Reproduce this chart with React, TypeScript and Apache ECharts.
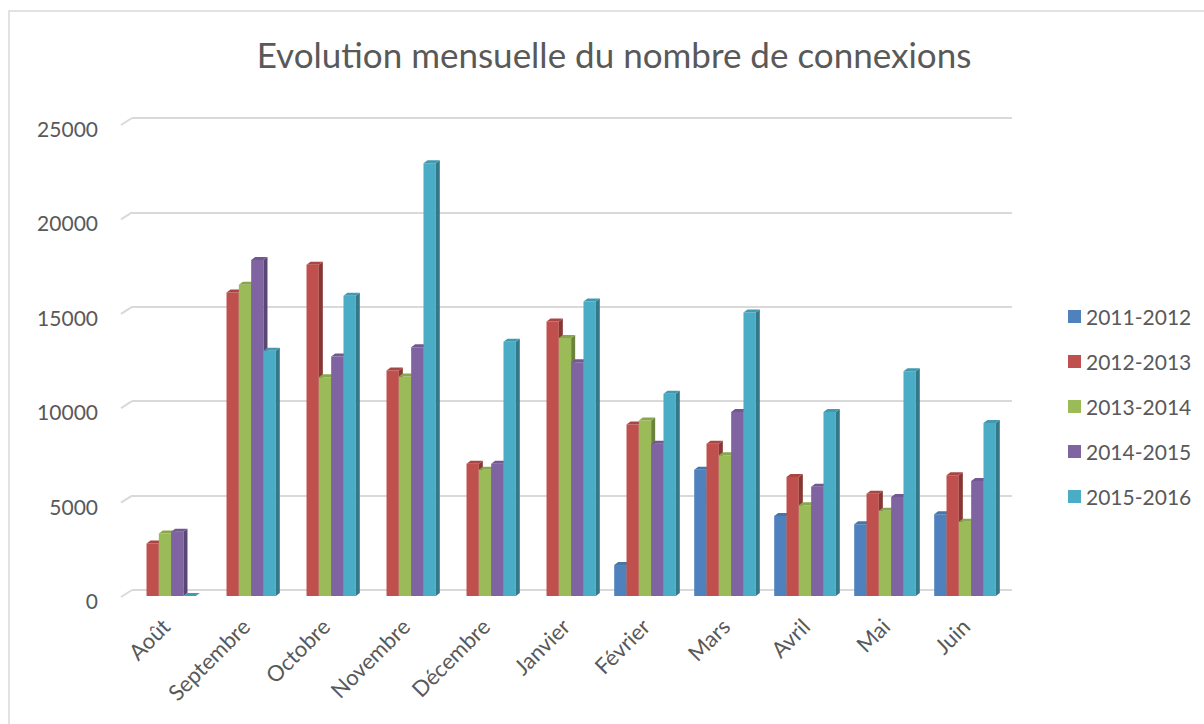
import React, { useEffect, useRef } from "react";
import * as echarts from "echarts";

const months = ["Août", "Septembre", "Octobre", "Novembre", "Décembre", "Janvier", "Février", "Mars", "Avril", "Mai", "Juin"];
const seasons = ["2011-2012", "2012-2013", "2013-2014", "2014-2015", "2015-2016"];
const s2011 = [null, null, null, null, null, null, 1640, 6690, 4240, 3800, 4330];
const s2012 = [2780, 16070, 17540, 11940, 7010, 14540, 9090, 8060, 6300, 5420, 6390];
const s2013 = [3310, 16480, 11590, 11620, 6690, 13660, 9300, 7450, 4810, 4510, 3930];
const s2014 = [3400, 17800, 12680, 13170, 7010, 12380, 8060, 9740, 5780, 5250, 6090];
const s2015 = [0, 12990, 15900, 22920, 13470, 15600, 10710, 15020, 9740, 11900, 9160];
const yTicks = [0, 5000, 10000, 15000, 20000, 25000];

const seriesValues = [s2011, s2012, s2013, s2014, s2015];
const frontColors = ["#4F81BD", "#C0504D", "#9BBB59", "#8064A2", "#4BACC6"];
const sideColors = ["#375A85", "#873836", "#6C833E", "#5A4672", "#347889"];
const topColors = ["#4675AB", "#A94643", "#89A64E", "#715891", "#429AB1"];

const FONT = "Lato, 'Open Sans', sans-serif";
const TXT = "#595959";
const GRID = "#d9d9d9";

export default function App() {
  const ref = useRef<HTMLDivElement>(null);

  useEffect(() => {
    document.body.style.margin = "0";
    const chart = echarts.init(ref.current!, null, { renderer: "svg" });

    const FX = -7;
    const FY = 6;
    const DX = 4;
    const DY = 3;

    const barSeries = seriesValues.map((vals, s) => ({
      name: seasons[s],
      type: "custom",
      itemStyle: { color: frontColors[s] },
      data: months.map((_, i) => [i, vals[i] === null ? "-" : vals[i]]),
      renderItem: (params: any, api: any) => {
        const cat = api.value(0);
        const v = api.value(1);
        if (v === null || v === undefined || isNaN(v)) return null;
        const base = api.coord([cat, 0]);
        const top = api.coord([cat, v]);
        const band = api.size([1, 0])[0];
        const bw = band * 0.154;
        const groupW = bw * 5;
        const x0 = base[0] - groupW / 2 + s * bw + FX;
        const yb = base[1] + FY;
        const yt = top[1] + FY;
        return {
          type: "group",
          children: [
            {
              type: "rect",
              shape: { x: x0, y: yt, width: bw, height: yb - yt },
              style: { fill: frontColors[s] },
            },
            {
              type: "polygon",
              shape: {
                points: [
                  [x0 + bw, yt],
                  [x0 + bw + DX, yt - DY],
                  [x0 + bw + DX, yb - DY],
                  [x0 + bw, yb],
                ],
              },
              style: { fill: sideColors[s] },
            },
            {
              type: "polygon",
              shape: {
                points: [
                  [x0, yt],
                  [x0 + DX, yt - DY],
                  [x0 + bw + DX, yt - DY],
                  [x0 + bw, yt],
                ],
              },
              style: { fill: topColors[s] },
            },
          ],
        };
      },
    }));

    const slantSeries = {
      name: "grid-slant",
      type: "custom",
      silent: true,
      data: yTicks.map((v) => [0, v]),
      renderItem: (params: any, api: any) => {
        const p = api.coord([0, api.value(1)]);
        const left = p[0] - api.size([1, 0])[0] / 2;
        return {
          type: "line",
          shape: { x1: left - 11, y1: p[1] + 7, x2: left, y2: p[1] },
          style: { stroke: GRID, lineWidth: 2 },
        };
      },
    };

    chart.setOption({
      animation: false,
      backgroundColor: "#ffffff",
      color: frontColors,
      textStyle: { fontFamily: FONT },
      graphic: [
        {
          type: "rect",
          shape: { x: 9, y: 11, width: 1400, height: 900 },
          style: { fill: "none", stroke: GRID, lineWidth: 1.5 },
          z: -1,
        },
        {
          type: "text",
          x: 614,
          y: 54,
          style: {
            text: "Evolution mensuelle du nombre de connexions",
            fill: TXT,
            font: `35px ${FONT}`,
            textAlign: "center",
            textVerticalAlign: "middle",
          },
        },
      ],
      legend: {
        data: seasons,
        orient: "vertical",
        left: 1063,
        top: 301,
        itemWidth: 13,
        itemHeight: 13,
        itemGap: 24,
        icon: "rect",
        textStyle: { fontSize: 21, color: TXT, fontFamily: FONT },
      },
      grid: { left: 132, top: 118, width: 880, height: 472, containLabel: false },
      xAxis: {
        type: "category",
        data: months,
        axisLine: { show: false },
        axisTick: { show: false },
        axisLabel: {
          rotate: 45,
          margin: 26,
          padding: [0, 9, 0, 0],
          fontSize: 22,
          color: TXT,
          fontFamily: FONT,
          interval: 0,
        },
      },
      yAxis: {
        type: "value",
        min: 0,
        max: 25000,
        interval: 5000,
        axisLine: { show: false },
        axisTick: { show: false },
        splitLine: { lineStyle: { color: GRID, width: 2 } },
        axisLabel: {
          margin: 34,
          verticalAlign: "top",
          formatter: (v: number) => String(v),
          fontSize: 21,
          color: TXT,
          fontFamily: FONT,
        },
      },
      series: [slantSeries, ...barSeries],
    });

    return () => chart.dispose();
  }, []);

  return <div ref={ref} style={{ position: "absolute", left: 0, top: 0, width: 1204, height: 724 }} />;
}
